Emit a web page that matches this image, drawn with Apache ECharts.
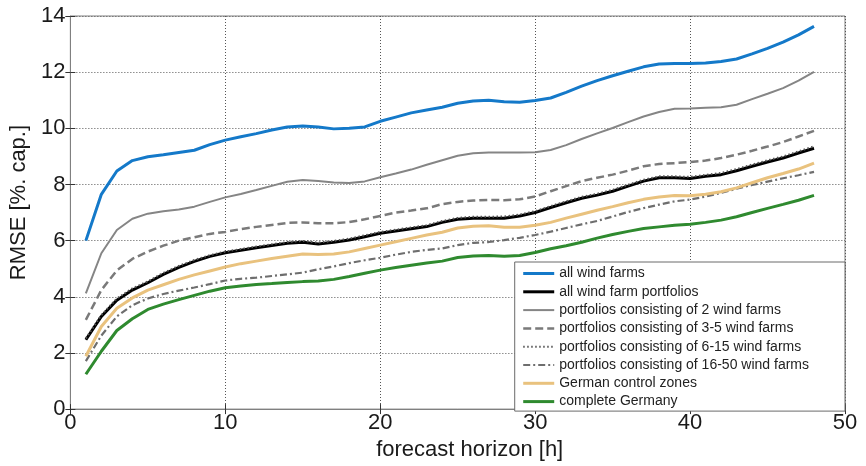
<!DOCTYPE html>
<html>
<head>
<meta charset="utf-8">
<script src="https://cdn.jsdelivr.net/npm/echarts@6/dist/echarts.min.js"></script>
<style>html,body{margin:0;padding:0;background:#fff}#c{width:866px;height:466px}</style>
</head>
<body>
<div id="c"></div>
<script>
const hours = [1,2,3,4,5,6,7,8,9,10,11,12,13,14,15,16,17,18,19,20,21,22,23,24,25,26,27,28,29,30,31,32,33,34,35,36,37,38,39,40,41,42,43,44,45,46,47,48];
const xTicks = [0,10,20,30,40,50];
const yTicks = [0,2,4,6,8,10,12,14];
const seriesNames = ['all wind farms','all wind farm portfolios','portfolios consisting of 2 wind farms','portfolios consisting of 3-5 wind farms','portfolios consisting of 6-15 wind farms','portfolios consisting of 16-50 wind farms','German control zones','complete Germany'];

const allWindFarms = [6.0,7.65,8.48,8.85,8.99,9.06,9.14,9.22,9.42,9.58,9.70,9.81,9.94,10.05,10.08,10.05,9.98,10.0,10.05,10.25,10.40,10.55,10.65,10.75,10.89,10.97,11.0,10.95,10.93,10.99,11.08,11.28,11.50,11.70,11.87,12.03,12.19,12.29,12.31,12.31,12.33,12.38,12.47,12.65,12.85,13.07,13.33,13.63];
const allPortfolios = [2.47,3.30,3.88,4.24,4.50,4.80,5.05,5.26,5.44,5.57,5.66,5.75,5.83,5.91,5.94,5.88,5.94,6.02,6.14,6.26,6.34,6.42,6.50,6.65,6.76,6.80,6.80,6.80,6.88,7.00,7.18,7.35,7.51,7.62,7.76,7.94,8.12,8.24,8.24,8.21,8.29,8.35,8.49,8.65,8.80,8.94,9.12,9.29];
const portfolios2 = [4.12,5.55,6.38,6.78,6.96,7.05,7.11,7.21,7.38,7.54,7.66,7.80,7.95,8.10,8.16,8.12,8.07,8.05,8.11,8.26,8.39,8.53,8.70,8.86,9.02,9.11,9.14,9.14,9.14,9.15,9.23,9.40,9.62,9.82,10.01,10.22,10.42,10.58,10.70,10.71,10.73,10.75,10.84,11.04,11.23,11.43,11.70,12.01];
const portfolios3to5 = [3.18,4.24,4.94,5.35,5.61,5.82,6.00,6.12,6.24,6.31,6.41,6.49,6.56,6.63,6.65,6.62,6.62,6.66,6.76,6.88,7.00,7.07,7.15,7.30,7.38,7.43,7.45,7.44,7.47,7.57,7.76,7.94,8.12,8.24,8.35,8.49,8.65,8.73,8.76,8.80,8.85,8.94,9.06,9.20,9.35,9.51,9.71,9.91];
const portfolios6to15 = [2.52,3.35,3.94,4.30,4.55,4.85,5.10,5.31,5.48,5.61,5.70,5.79,5.87,5.95,5.99,5.93,5.99,6.07,6.19,6.31,6.39,6.47,6.55,6.70,6.81,6.85,6.85,6.86,6.93,7.05,7.23,7.40,7.56,7.67,7.81,7.99,8.17,8.29,8.29,8.27,8.34,8.41,8.55,8.71,8.86,9.00,9.18,9.36];
const portfolios16to50 = [1.71,2.62,3.30,3.70,3.94,4.10,4.22,4.33,4.45,4.58,4.64,4.68,4.74,4.80,4.86,4.98,5.08,5.20,5.30,5.39,5.50,5.60,5.67,5.72,5.84,5.92,5.95,6.02,6.10,6.20,6.32,6.45,6.58,6.70,6.86,7.02,7.16,7.28,7.40,7.46,7.57,7.70,7.85,7.98,8.10,8.22,8.33,8.45];
const controlZones = [1.88,2.94,3.59,3.96,4.24,4.43,4.62,4.78,4.92,5.06,5.18,5.27,5.36,5.44,5.52,5.51,5.52,5.60,5.72,5.84,5.96,6.08,6.20,6.30,6.45,6.51,6.53,6.48,6.48,6.55,6.65,6.80,6.94,7.08,7.21,7.35,7.47,7.55,7.61,7.60,7.65,7.74,7.88,8.06,8.24,8.39,8.55,8.76];
const completeGermany = [1.24,2.06,2.80,3.22,3.55,3.74,3.90,4.05,4.20,4.32,4.38,4.44,4.47,4.51,4.54,4.56,4.62,4.72,4.84,4.95,5.04,5.12,5.20,5.27,5.40,5.45,5.47,5.44,5.47,5.58,5.71,5.82,5.94,6.09,6.22,6.33,6.43,6.49,6.55,6.58,6.65,6.73,6.85,7.00,7.15,7.29,7.44,7.61];

const valuesList = [allWindFarms, allPortfolios, portfolios2, portfolios3to5, portfolios6to15, portfolios16to50, controlZones, completeGermany];
const styles = [
  {color:'#1479c9', width:3, type:'solid', z:8},
  {color:'#000000', width:3, type:'solid', z:6},
  {color:'#858585', width:2, type:'solid', z:5},
  {color:'#7a7a7a', width:2.5, type:[8,4], z:5},
  {color:'#555555', width:2, type:[1.5,2.5], z:7},
  {color:'#6e6e6e', width:2.2, type:[7,3,2,3], z:5},
  {color:'#e9c27e', width:3, type:'solid', z:5},
  {color:'#2f8a2f', width:3, type:'solid', z:5}
];

const series = seriesNames.map((name, i) => ({
  name: name,
  type: 'line',
  symbol: 'none',
  smooth: false,
  z: styles[i].z,
  lineStyle: {color: styles[i].color, width: styles[i].width, type: styles[i].type},
  itemStyle: {color: styles[i].color},
  data: hours.map((h, k) => [h, valuesList[i][k]])
}));

const font = 'Arial, "Liberation Sans", sans-serif';
const chart = echarts.init(document.getElementById('c'), null, {renderer: 'canvas'});
chart.setOption({
  animation: false,
  backgroundColor: '#ffffff',
  grid: {left: 67, right: 21, top: 16, bottom: 53, show: true, borderColor: '#808080', borderWidth: 1, backgroundColor: 'transparent'},
  legend: {
    orient: 'vertical',
    right: 21,
    top: 262,
    padding: [4, 36, 2, 7],
    itemGap: 3.3,
    itemWidth: 31,
    itemHeight: 15,
    itemTextGap: 6,
    backgroundColor: '#ffffff',
    borderColor: '#6a6a6a',
    borderWidth: 1,
    borderRadius: 0,
    selectedMode: false,
    itemStyle: {color: 'rgba(0,0,0,0)', borderWidth: 0, opacity: 0},
    textStyle: {fontFamily: font, fontSize: 14, color: '#222', lineHeight: 15},
    data: seriesNames.map((n, i) => ({
      name: n,
      itemStyle: {color: 'rgba(0,0,0,0)', borderWidth: 0, opacity: 0},
      lineStyle: {width: Math.min(styles[i].width, 3), type: styles[i].type, color: styles[i].color, opacity: 1}
    }))
  },
  xAxis: [{
    type: 'value', min: xTicks[0], max: xTicks[xTicks.length-1], interval: 10,
    name: 'forecast horizon [h]', nameLocation: 'middle', nameGap: 22,
    nameTextStyle: {fontFamily: font, fontSize: 22, color: '#1a1a1a', padding: [0,0,0,24]},
    axisLine: {show: true, lineStyle: {color: '#808080'}},
    axisTick: {show: true, inside: true, length: 5, lineStyle: {color: '#333'}},
    axisLabel: {fontFamily: font, fontSize: 22, color: '#1a1a1a', margin: 3},
    splitLine: {show: true, lineStyle: {color: '#555', width: 1, type: [1,2]}}
  }, {
    type: 'value', position: 'top', min: 0, max: 50, interval: 10,
    axisLine: {show: false}, axisLabel: {show: false}, splitLine: {show: false},
    axisTick: {show: true, inside: true, length: 5, lineStyle: {color: '#333'}}
  }],
  yAxis: [{
    type: 'value', min: yTicks[0], max: yTicks[yTicks.length-1], interval: 2,
    name: 'RMSE [%. cap.]', nameLocation: 'middle', nameGap: 34, nameRotate: 90,
    nameTextStyle: {fontFamily: font, fontSize: 22, color: '#1a1a1a', padding: [0,0,0,20]},
    axisLine: {show: true, lineStyle: {color: '#808080'}},
    axisTick: {show: true, inside: true, length: 5, lineStyle: {color: '#333'}},
    axisLabel: {fontFamily: font, fontSize: 22, color: '#1a1a1a', margin: 5},
    splitLine: {show: true, lineStyle: {color: '#555', width: 1, type: [1,2]}}
  }, {
    type: 'value', position: 'right', min: 0, max: 14, interval: 2,
    axisLine: {show: false}, axisLabel: {show: false}, splitLine: {show: false},
    axisTick: {show: true, inside: true, length: 5, lineStyle: {color: '#333'}}
  }],
  series: series
});
</script>
</body>
</html>
